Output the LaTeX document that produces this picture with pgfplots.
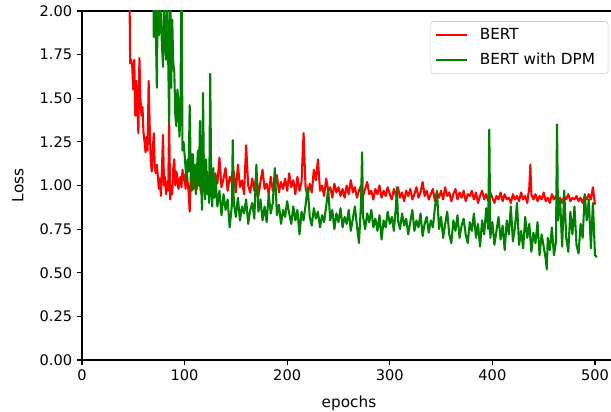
\documentclass[border=0pt]{standalone}
\usepackage{fontspec}
\setmainfont{DejaVu Sans}
\usepackage{pgfplots}
\pgfplotsset{compat=1.18}
\usetikzlibrary{calc}
\definecolor{mplgreen}{RGB}{0,128,0}
\begin{document}
\begin{tikzpicture}
\begin{axis}[
  scale only axis,
  width=384.5pt, height=251.3pt,
  xmin=0, xmax=520.5, ymin=0, ymax=2,
  axis x line*=box, axis y line*=left,
  axis line style={-, line width=0.8pt, black},
  xtick={0,100,200,300,400,500},
  ytick={0,0.25,0.5,0.75,1,1.25,1.5,1.75,2},
  xtick pos=bottom, ytick pos=left,
  tick align=outside,
  major tick length=3.5pt,
  tick style={line width=0.8pt, black},
  tick label style={font=\fontsize{10.5}{12.5}\selectfont},
  yticklabel style={/pgf/number format/.cd, fixed, fixed zerofill, precision=2},
  /pgf/number format/assume math mode=true,
  xlabel={epochs}, ylabel={Loss},
  label style={font=\fontsize{11}{13}\selectfont},
  xlabel style={at={(axis description cs:0.5,-0.124)}, anchor=center},
  ylabel style={at={(axis description cs:-0.12,0.5)}, anchor=center},
  legend style={at={(1,1)}, anchor=north east, xshift=-5.5pt, yshift=-7.4pt,
    draw=black!20, rounded corners=2pt, fill=white, fill opacity=0.8, text opacity=1,
    inner xsep=2.9pt, inner ysep=4.2pt, row sep=7.0pt, column sep=8.5pt,
    font=\fontsize{11}{13}\selectfont,
    nodes={inner xsep=0pt, inner ysep=0pt, text height=8.5pt, text depth=2.5pt}},
  legend cell align=left,
  legend image code/.code={\draw[#1, line width=1.5pt] (0pt,0pt) -- (22.3pt,0pt);},
]
\addplot[red, line width=1.5pt, line join=round] coordinates {
(0,8.0)(5,5.5)(10,4.5)(15,3.9)(20,3.5)(25,3.1)(30,2.9)(35,2.7)(40,2.5)(44,2.4)(46,2.3)
(47,1.70)(48,1.72)(49,1.68)(50,1.55)(51,1.72)(52,1.40)(53,1.60)(54,1.45)(55,1.30)(56,1.73)
(57,1.50)(58,1.40)(59,1.45)(60,1.30)(61,1.25)(62,1.19)(63,1.28)(64,1.20)(65,1.60)(66,1.35)
(67,1.15)(68,1.08)(69,1.20)(70,1.30)(71,1.10)(72,1.07)(73,1.12)(74,1.05)(75,0.98)(76,1.04)
(77,0.94)(78,1.10)(79,1.29)(80,1.00)(81,1.05)(82,0.95)(83,1.02)(84,0.97)(85,1.36)(86,0.92)
(87,1.00)(88,0.95)(89,1.10)(90,1.15)(91,1.00)(92,1.08)(93,1.05)(94,0.98)(95,1.02)(96,1.05)
(97,0.99)(98,1.09)(99,1.03)(100,1.06)(101,0.98)(102,1.09)(103,1.02)(104,0.96)(105,0.85)
(106,1.05)(107,1.10)(108,1.00)(109,0.98)(110,1.05)
(112,0.98)(114,1.06)(116,0.96)(118,1.04)(120,0.95)(122,1.08)(124,1.00)(126,1.03)(128,0.97)
(130,1.07)(132,1.01)(134,1.16)(136,0.99)(138,1.04)(140,1.10)(142,0.97)(144,1.05)(146,1.02)
(148,1.08)(150,0.96)(152,1.12)(154,0.99)(156,1.03)(158,0.95)(160,1.23)(162,1.00)(164,0.96)
(166,1.04)(168,0.97)(170,1.06)(172,0.94)(174,1.02)(176,1.09)(178,0.98)(180,1.01)(182,0.95)
(184,1.05)(186,0.97)(188,1.00)(190,1.06)(192,0.96)(194,1.02)(196,0.98)(198,1.04)(200,0.97)
(202,1.07)(204,0.99)(206,1.03)(208,0.95)(210,1.05)(212,0.97)(214,1.02)(216,1.30)(218,0.98)
(220,0.94)(222,1.01)(224,0.96)(226,1.09)(228,1.03)(230,1.15)(232,0.97)(234,1.00)(236,0.94)
(238,1.04)(240,0.97)(242,0.99)(244,0.93)(246,1.01)(248,0.96)(250,0.99)(252,0.94)(254,0.98)
(256,0.93)(258,1.00)(260,0.95)(262,1.03)(264,0.96)(266,0.99)(268,0.93)(270,0.97)(272,1.00)
(274,0.94)(276,0.98)(278,1.02)(280,0.95)(282,0.97)(284,0.92)(286,0.98)(288,0.95)(290,1.00)
(292,0.93)(294,0.97)(296,0.94)(298,0.99)(300,0.95)(302,0.92)(304,0.98)(306,0.94)(308,0.99)
(310,0.93)(312,0.96)(314,0.91)(316,0.97)(318,0.94)(320,0.98)(322,0.92)(324,0.95)(326,0.99)
(328,0.93)(330,0.96)(332,1.02)(334,0.94)(336,0.97)(338,0.92)(340,0.95)(342,0.98)(344,0.91)
(346,0.96)(348,0.93)(350,0.97)(352,0.92)(354,0.99)(356,0.94)(358,0.96)(360,0.91)(362,0.95)
(364,0.98)(366,0.92)(368,0.96)(370,0.93)(372,0.97)(374,0.91)(376,0.95)(378,0.94)(380,0.97)
(382,0.92)(384,0.96)(386,0.90)(388,0.94)(390,0.97)(392,0.92)(394,0.95)(396,0.91)(398,0.96)
(400,0.93)(402,0.90)(404,0.94)(406,0.92)(408,0.96)(410,0.91)(412,0.95)(414,0.92)(416,0.93)
(418,0.90)(420,0.95)(422,0.92)(424,0.94)(426,0.91)(428,0.96)(430,0.92)(432,0.94)(434,0.90)
(436,0.99)(437,1.12)(438,0.95)(440,0.92)(442,0.95)(444,0.91)(446,0.94)(448,0.92)(450,0.96)
(452,0.91)(454,0.93)(456,0.90)(458,0.95)(460,0.92)(462,0.94)(464,0.91)(466,0.93)(468,0.90)
(470,0.94)(472,0.92)(474,0.95)(476,0.91)(478,0.93)(480,0.92)(482,0.94)(484,0.91)(486,0.93)
(488,0.90)(490,0.94)(492,0.92)(494,0.95)(496,0.92)(498,0.99)(500,0.89)
};
\addlegendentry{BERT}
\addplot[mplgreen, line width=1.5pt, line join=round] coordinates {
(0,9.0)(5,6.5)(10,5.4)(20,4.2)(30,3.5)(40,3.0)(50,2.7)(60,2.5)(65,2.4)(68,2.3)(69,2.5)
(70,1.85)(71,2.3)(72,1.90)(73,1.56)(74,2.2)(75,1.86)(76,2.1)(77,1.95)(78,1.80)(79,1.68)
(80,2.1)(81,1.80)(82,1.72)(83,2.05)(84,1.75)(85,1.36)(86,2.2)(87,1.56)(88,1.95)(89,1.70)
(90,1.65)(91,1.40)(92,1.34)(93,1.55)(94,1.49)(95,1.28)(96,1.40)(97,2.3)(98,1.20)(99,1.25)
(100,1.18)(101,1.10)(102,1.03)(103,1.15)(104,1.08)(105,1.46)(106,1.10)(107,0.97)(108,1.18)
(109,1.05)(110,1.12)(111,0.95)(112,1.08)(113,1.20)(114,1.00)(115,1.37)(116,1.05)(117,0.86)
(118,1.53)(119,1.00)(120,0.92)(121,1.15)(122,0.95)(123,1.05)(124,0.90)(125,1.64)(126,1.00)
(127,0.88)(128,1.10)(129,0.93)(130,1.05)
(132,0.88)(134,0.97)(136,0.83)(138,0.95)(140,0.86)(142,0.92)(144,0.76)(146,0.88)(147,1.26)
(148,0.90)(150,0.82)(152,0.93)(154,0.80)(156,0.88)(158,0.84)(160,0.92)(162,0.78)(164,0.86)
(166,0.90)(168,0.81)(170,1.12)(172,0.85)(174,0.92)(176,0.80)(178,0.88)(180,0.79)(182,0.95)
(184,0.84)(186,0.90)(188,1.10)(190,0.83)(192,0.89)(194,0.78)(196,0.86)(198,0.82)(200,0.91)
(202,0.84)(204,0.78)(206,0.88)(208,0.80)(210,0.86)(212,0.72)(214,0.85)(216,0.80)(218,0.89)
(220,0.99)(222,0.82)(224,0.77)(226,0.87)(228,0.81)(230,0.85)(232,0.76)(234,0.83)(236,0.79)
(238,0.88)(240,0.98)(242,0.80)(244,0.86)(246,0.75)(248,0.84)(250,0.79)(252,0.87)(254,0.76)
(256,0.82)(258,0.78)(260,0.86)(262,0.74)(264,0.81)(266,0.88)(268,0.77)(270,0.67)(272,0.90)
(273,1.19)(274,0.82)(276,0.75)(278,0.84)(280,0.79)(282,0.86)(284,0.76)(286,0.81)(288,0.74)
(290,0.83)(292,0.69)(294,0.80)(296,0.76)(298,0.85)(300,0.78)(302,0.82)(304,0.74)(306,0.88)
(307,0.99)(308,0.80)(310,0.75)(312,0.84)(314,0.77)(316,0.81)(318,0.72)(320,0.79)(322,0.86)
(324,0.74)(326,0.80)(328,0.76)(330,0.84)(332,0.71)(334,0.78)(336,0.82)(338,0.73)(340,0.80)
(342,0.76)(344,0.87)(346,0.97)(348,0.75)(350,0.82)(352,0.70)(354,0.78)(356,0.85)(358,0.72)
(360,0.67)(362,0.80)(364,0.74)(366,0.83)(368,0.70)(370,0.77)(372,0.81)(374,0.72)(376,0.67)
(378,0.79)(380,0.74)(382,0.84)(384,0.70)(386,0.78)(388,0.65)(390,0.80)(392,0.72)(394,0.87)
(396,0.75)(397,1.32)(398,0.70)(400,0.79)(402,0.66)(404,0.74)(406,0.82)(408,0.69)(410,0.77)
(412,0.63)(414,0.80)(416,0.72)(418,0.88)(420,0.68)(422,0.76)(424,0.90)(426,0.66)(428,0.74)
(430,0.64)(432,0.82)(434,0.70)(436,0.78)(438,0.62)(440,0.73)(442,0.67)(444,0.79)(446,0.60)
(448,0.72)(450,0.65)(452,0.58)(453,0.52)(454,0.70)(456,0.63)(458,0.76)(460,0.60)(462,0.68)
(463,1.35)(464,0.80)(466,0.92)(468,0.65)(470,0.97)(472,0.70)(474,0.62)(476,0.85)(478,0.72)
(480,0.88)(482,0.66)(484,0.61)(486,0.78)(488,0.70)(490,0.95)(492,0.80)(494,0.92)(496,0.64)
(498,0.90)(500,0.60)(502,0.59)
};
\addlegendentry{BERT with DPM\rule{6.5pt}{0pt}}
\end{axis}
\pgfresetboundingbox
\path ($(current axis.south west)+(-59pt,-37.4pt)$) rectangle ($(current axis.north east)+(-3.6pt,7.9pt)$);
\end{tikzpicture}
\end{document}
